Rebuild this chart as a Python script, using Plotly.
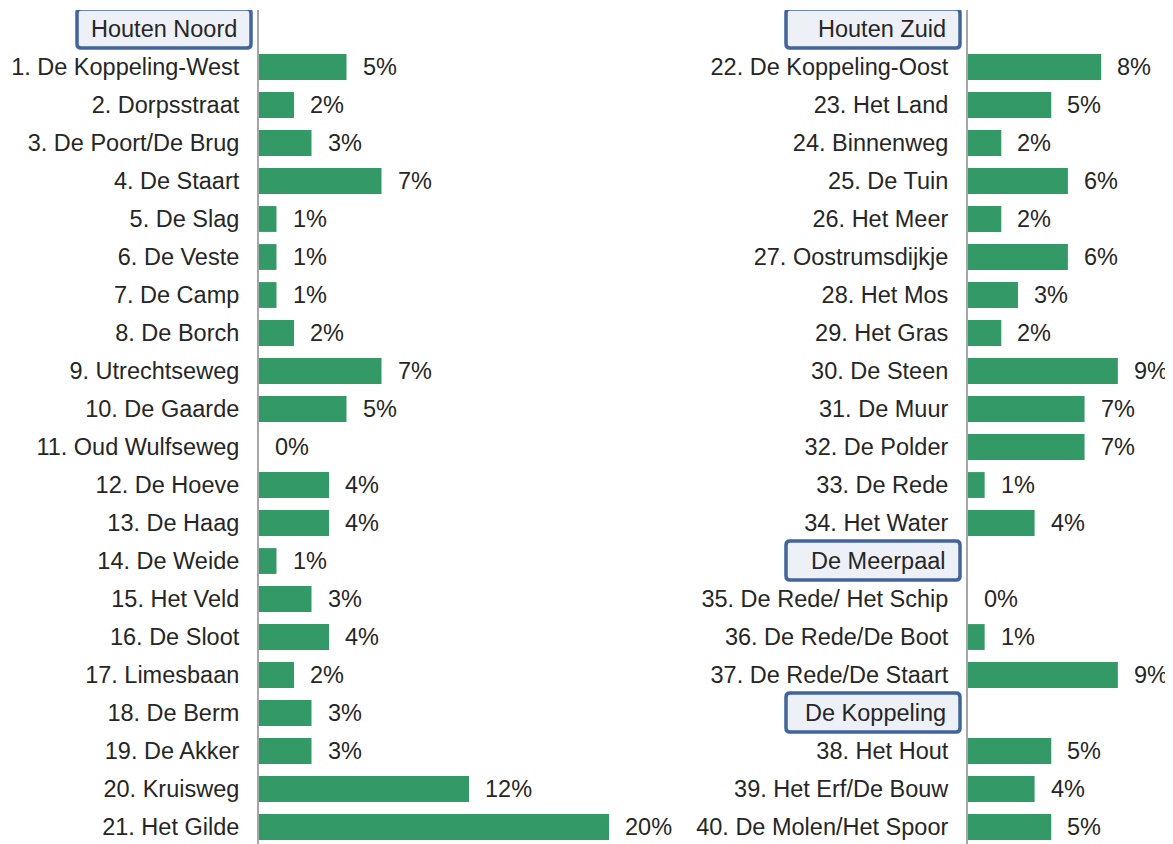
import plotly.graph_objects as go

# ---- data ----
noord_header = "Houten Noord"
noord_labels = ["1. De Koppeling-West", "2. Dorpsstraat", "3. De Poort/De Brug", "4. De Staart",
                "5. De Slag", "6. De Veste", "7. De Camp", "8. De Borch", "9. Utrechtseweg",
                "10. De Gaarde", "11. Oud Wulfseweg", "12. De Hoeve", "13. De Haag", "14. De Weide",
                "15. Het Veld", "16. De Sloot", "17. Limesbaan", "18. De Berm", "19. De Akker",
                "20. Kruisweg", "21. Het Gilde"]
noord_values = [5, 2, 3, 7, 1, 1, 1, 2, 7, 5, 0, 4, 4, 1, 3, 4, 2, 3, 3, 12, 20]

zuid_header = "Houten Zuid"
zuid_labels = ["22. De Koppeling-Oost", "23. Het Land", "24. Binnenweg", "25. De Tuin", "26. Het Meer",
               "27. Oostrumsdijkje", "28. Het Mos", "29. Het Gras", "30. De Steen", "31. De Muur",
               "32. De Polder", "33. De Rede", "34. Het Water"]
zuid_values = [8, 5, 2, 6, 2, 6, 3, 2, 9, 7, 7, 1, 4]

meerpaal_header = "De Meerpaal"
meerpaal_labels = ["35. De Rede/ Het Schip", "36. De Rede/De Boot", "37. De Rede/De Staart"]
meerpaal_values = [0, 1, 9]

koppeling_header = "De Koppeling"
koppeling_labels = ["38. Het Hout", "39. Het Erf/De Bouw", "40. De Molen/Het Spoor"]
koppeling_values = [5, 4, 5]

# ---- styling ----
# the page body has an 8px margin, so the figure is drawn 8px smaller and offset
W, H = 1165, 836
FONT = "Liberation Sans, Arial, sans-serif"
FS = 23.5
TXT = "#262626"
BAR = "#339966"
AXIS = "#a6a6a6"
BOX_LINE = "#41659a"
BOX_FILL = "#eef0f8"


def build(groups):
    rows_lab, rows_val, rows_y, headers = [], [], [], []
    r = 0
    for header, labs, vals in groups:
        headers.append((header, r))
        r += 1
        for lab, v in zip(labs, vals):
            rows_lab.append(lab)
            rows_val.append(v)
            rows_y.append(r)
            r += 1
    return rows_lab, rows_val, rows_y, headers


left = build([(noord_header, noord_labels, noord_values)])
right = build([(zuid_header, zuid_labels, zuid_values),
               (meerpaal_header, meerpaal_labels, meerpaal_values),
               (koppeling_header, koppeling_labels, koppeling_values)])


def rounded_box(x0, x1, y0, y1, r):
    return (f"M {x0 + r},{y0} L {x1 - r},{y0} Q {x1},{y0} {x1},{y0 + r} "
            f"L {x1},{y1 - r} Q {x1},{y1} {x1 - r},{y1} "
            f"L {x0 + r},{y1} Q {x0},{y1} {x0},{y1 - r} "
            f"L {x0},{y0 + r} Q {x0},{y0} {x0 + r},{y0} Z")


fig = go.Figure()
annotations = []
shapes = []

for (labs, vals, ys, headers), xa, ya in [(left, "x", "y"), (right, "x2", "y2")]:
    fig.add_trace(go.Bar(
        x=vals, y=ys, orientation="h", xaxis=xa, yaxis=ya,
        marker=dict(color=BAR, line=dict(width=0)),
        width=0.68, hoverinfo="skip", showlegend=False,
    ))
    for v, y in zip(vals, ys):
        annotations.append(dict(
            x=v, y=y, xref=xa, yref=ya, text=f"{v}%", showarrow=False,
            xanchor="left", yanchor="middle", xshift=14,
            font=dict(family=FONT, size=FS, color=TXT),
        ))
    for name, y in headers:
        shapes.append(dict(
            type="path", xref=f"{xa} domain", yref=ya,
            xsizemode="pixel", ysizemode="pixel", xanchor=0, yanchor=y,
            path=rounded_box(-182, -8, -19, 20, 4),
            line=dict(color=BOX_LINE, width=3.5), fillcolor=BOX_FILL, layer="above",
        ))
        annotations.append(dict(
            x=0, y=y, xref=f"{xa} domain", yref=ya, text=name, showarrow=False,
            xanchor="right", yanchor="middle", xshift=-20,
            font=dict(family=FONT, size=FS, color=TXT),
        ))

rows_span = [21.447, -0.5]

common_y = dict(
    range=rows_span, showgrid=False, zeroline=False, showline=True,
    linecolor=AXIS, linewidth=2, ticks="", ticklabelstandoff=13,
    tickfont=dict(family=FONT, size=FS, color=TXT), fixedrange=True,
)
common_x = dict(visible=False, showgrid=False, zeroline=False, fixedrange=True)

fig.update_layout(
    width=W, height=H,
    margin=dict(l=0, r=0, t=2, b=0),
    paper_bgcolor="white", plot_bgcolor="white",
    xaxis=dict(domain=[251 / W, 682 / W], range=[0, 431 / 17.5], anchor="y", **common_x),
    yaxis=dict(domain=[0, 1], anchor="x", tickvals=left[2], ticktext=left[0], **common_y),
    xaxis2=dict(domain=[960 / W, 1.0], range=[0, 205 / 16.65], anchor="y2", **common_x),
    yaxis2=dict(domain=[0, 1], anchor="x2", tickvals=right[2], ticktext=right[0], **common_y),
    annotations=annotations,
    shapes=shapes,
    font=dict(family=FONT, size=FS, color=TXT),
)

fig.write_html("out.html")
